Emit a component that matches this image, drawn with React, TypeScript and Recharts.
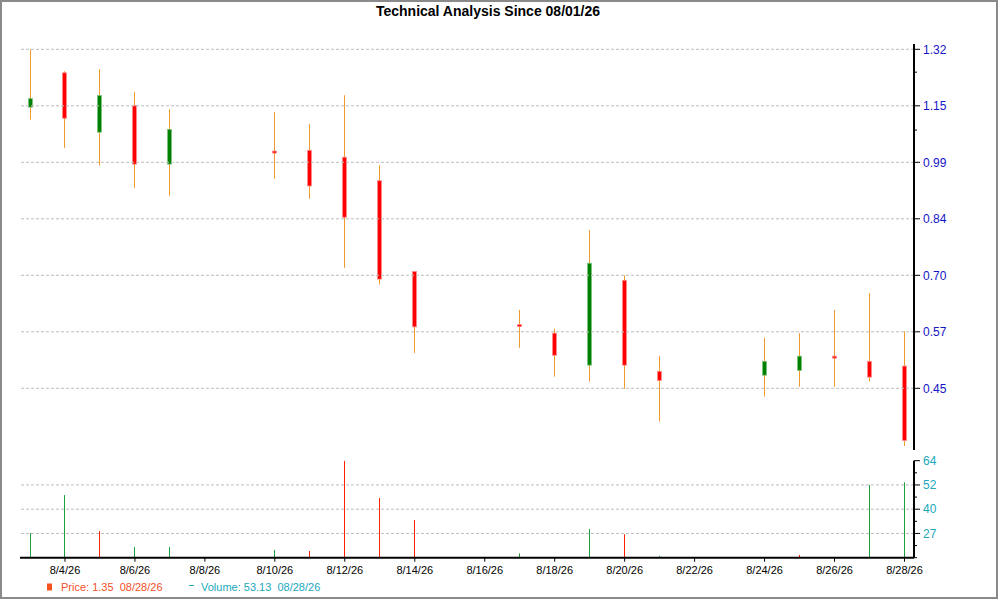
import React from 'react';
import { ComposedChart, Bar, XAxis, YAxis, ReferenceLine } from 'recharts';

// Trading days of August 2026 (calendar day numbers)
const DAYS = [3, 4, 5, 6, 7, 10, 11, 12, 13, 14, 17, 18, 19, 20, 21, 24, 25, 26, 27, 28];

const OPEN = [1.146, 1.248, 1.074, 1.15, 0.985, 1.021, 1.023, 1.004, 0.94, 0.709, 0.586, 0.567, 0.498, 0.688, 0.485, 0.477, 0.487, 0.517, 0.506, 0.496];
const HIGH = [1.32, 1.253, 1.259, 1.191, 1.14, 1.132, 1.097, 1.181, 0.982, 0.709, 0.619, 0.577, 0.811, 0.7, 0.517, 0.557, 0.567, 0.619, 0.658, 0.571];
const LOW = [1.11, 1.03, 0.981, 0.921, 0.9, 0.945, 0.892, 0.718, 0.678, 0.524, 0.535, 0.474, 0.464, 0.449, 0.384, 0.433, 0.453, 0.453, 0.464, 0.338];
const CLOSE = [1.171, 1.114, 1.18, 0.985, 1.082, 1.017, 0.926, 0.844, 0.691, 0.581, 0.582, 0.519, 0.729, 0.498, 0.466, 0.506, 0.517, 0.513, 0.473, 0.348];

const VOLUME = [27.6, 46.7, 28.6, 20.6, 20.6, 19.1, 18.6, 64, 45.2, 34.2, 17.4, 15.2, 29.6, 27.0, 16.1, 15.2, 16.6, 15.2, 51.8, 53.13];
const VOLUME_UP = [true, true, false, true, true, true, false, false, false, false, true, true, true, false, true, true, false, true, true, true];

// axis ticks
const PRICE_MAJOR = [1.32, 1.15, 0.99, 0.84, 0.7, 0.57, 0.45];
const PRICE_MINOR = [1.25, 1.08];
const VOL_MIN = 15.2;
const VOL_MAX = 64;
const VOL_MAJOR = [27.4, 39.6, 51.8, 64];
const VOL_MINOR = [15.2, 21.3, 33.5, 45.7, 57.9];
const DATE_TICKS = [4, 6, 8, 10, 12, 14, 16, 18, 20, 22, 24, 26, 28];

const TITLE = 'Technical Analysis Since 08/01/26';
const LEGEND_PRICE = 'Price: 1.35  08/28/26';
const LEGEND_VOLUME = 'Volume: 53.13  08/28/26';

// the price axis is a square-root scale with an offset
const OFFSET = 0.21125;
const T = (v: number) => Math.sqrt(v + OFFSET);
const fromT = (t: number) => t * t - OFFSET;

const X_DOMAIN: [number, number] = [2.714, 28.272];
const FONT = '"Liberation Sans", Arial, sans-serif';
const WICK = '#f29a2e';
const GRID = '#bdbdbd';

const priceRows = DAYS.map((day, i) => ({
    day,
    open: OPEN[i],
    high: HIGH[i],
    low: LOW[i],
    close: CLOSE[i],
}));

const volumeRows = DAYS.map((day, i) => ({
    day,
    volume: VOLUME[i],
    up: VOLUME_UP[i],
}));

const isIn = (list: number[], v: number) => list.some(t => Math.abs(t - v) < 1e-6);

const Candle = (props: any) => {
    const { x, y, width, height, payload } = props;
    if (x == null || !payload) return null;
    const cx = Math.round(x + width / 2) + 0.5;
    const top = Math.min(y, y + height);
    const h = Math.abs(height);
    const th = T(payload.high);
    const tl = T(payload.low);
    const k = h / (th - tl);
    const yOf = (v: number) => top + (th - T(v)) * k;
    const yO = yOf(payload.open);
    const yC = yOf(payload.close);
    const up = payload.close > payload.open;
    const bodyTop = Math.min(yO, yC);
    const bodyH = Math.max(Math.abs(yO - yC), 2);
    return (
        <g>
            <line x1={cx} x2={cx} y1={top} y2={top + h} stroke={WICK} strokeWidth={1} />
            <rect
                x={cx - 2}
                y={bodyTop}
                width={4}
                height={bodyH}
                fill={up ? '#008000' : '#ff0000'}
                stroke={up ? '#7cc07c' : '#ff8a8a'}
                strokeWidth={0.8}
            />
        </g>
    );
};

const VolumeLine = (props: any) => {
    const { x, y, width, height, payload } = props;
    if (x == null || !payload) return null;
    const cx = Math.round(x + width / 2) + 0.5;
    const top = Math.min(y, y + height);
    return (
        <line
            x1={cx}
            x2={cx}
            y1={top}
            y2={top + Math.abs(height)}
            stroke={payload.up ? '#1e9e3c' : '#ff2200'}
            strokeWidth={1}
        />
    );
};

const PriceTick = (props: any) => {
    const { x, y, payload } = props;
    const major = isIn(PRICE_MAJOR.map(T), payload.value);
    const ax = x - 9;
    return (
        <g>
            <line x1={ax} x2={ax + (major ? 6 : 3)} y1={y} y2={y} stroke="#000" strokeWidth={1} />
            {major && (
                <text x={x} y={y} dy="0.35em" fontSize={12} fontFamily={FONT} fill="#1414c8">
                    {fromT(payload.value).toFixed(2)}
                </text>
            )}
        </g>
    );
};

const VolumeTick = (props: any) => {
    const { x, y, payload } = props;
    const major = isIn(VOL_MAJOR, payload.value);
    const ax = x - 9;
    return (
        <g>
            <line x1={ax} x2={ax + (major ? 6 : 3)} y1={y} y2={y} stroke="#000" strokeWidth={1} />
            {major && (
                <text x={x} y={y} dy="0.35em" fontSize={12} fontFamily={FONT} fill="#20a8bc">
                    {Math.round(payload.value)}
                </text>
            )}
        </g>
    );
};

const App = () => {
    return (
        <div
            style={{
                position: 'absolute',
                left: 0,
                top: 0,
                width: 1000,
                height: 600,
                background: '#fff',
                fontFamily: FONT,
            }}
        >
            {/* price panel */}
            <div style={{ position: 'absolute', left: 0, top: 0 }}>
                <ComposedChart
                    width={1000}
                    height={455}
                    data={priceRows}
                    margin={{ top: 44, right: 26, bottom: 5, left: 20 }}
                >
                    <XAxis dataKey="day" type="number" domain={X_DOMAIN} allowDataOverflow hide />
                    <YAxis
                        orientation="right"
                        type="number"
                        width={60}
                        domain={[0.73596, 1.24407]}
                        allowDataOverflow
                        ticks={[...PRICE_MAJOR, ...PRICE_MINOR].map(T)}
                        interval={0}
                        tickSize={0}
                        tickMargin={9}
                        tickLine={false}
                        tick={<PriceTick />}
                        axisLine={{ stroke: '#000', strokeWidth: 2 }}
                    />
                    {PRICE_MAJOR.map(v => (
                        <ReferenceLine
                            key={v}
                            y={T(v)}
                            stroke={GRID}
                            strokeDasharray="3 2"
                            strokeWidth={1}
                        />
                    ))}
                    <Bar
                        dataKey={(d: any) => [T(d.low), T(d.high)]}
                        barSize={6}
                        shape={<Candle />}
                        isAnimationActive={false}
                    />
                </ComposedChart>
            </div>

            {/* volume panel */}
            <div style={{ position: 'absolute', left: 0, top: 455 }}>
                <ComposedChart
                    width={1000}
                    height={145}
                    data={volumeRows}
                    margin={{ top: 5.7, right: 26, bottom: 12.3, left: 20 }}
                >
                    <XAxis
                        dataKey="day"
                        type="number"
                        domain={X_DOMAIN}
                        allowDataOverflow
                        ticks={DATE_TICKS}
                        interval={0}
                        height={30}
                        tickSize={4}
                        tickMargin={4}
                        tickFormatter={(d: number) => `8/${d}/26`}
                        tick={{ fontSize: 11, fontFamily: FONT, fill: '#000' }}
                        tickLine={{ stroke: '#000' }}
                        axisLine={{ stroke: '#000', strokeWidth: 2 }}
                    />
                    <YAxis
                        orientation="right"
                        type="number"
                        width={60}
                        domain={[VOL_MIN, VOL_MAX]}
                        allowDataOverflow
                        ticks={[...VOL_MAJOR, ...VOL_MINOR]}
                        interval={0}
                        tickSize={0}
                        tickMargin={9}
                        tickLine={false}
                        tick={<VolumeTick />}
                        axisLine={{ stroke: '#000', strokeWidth: 2 }}
                    />
                    {VOL_MAJOR.filter(v => v < VOL_MAX).map(v => (
                        <ReferenceLine
                            key={v}
                            y={v}
                            stroke={GRID}
                            strokeDasharray="3 2"
                            strokeWidth={1}
                        />
                    ))}
                    <Bar
                        dataKey={(d: any) => [VOL_MIN, d.volume]}
                        barSize={6}
                        shape={<VolumeLine />}
                        isAnimationActive={false}
                    />
                </ComposedChart>
            </div>

            {/* title and legend */}
            <svg
                width={1000}
                height={600}
                style={{ position: 'absolute', left: 0, top: 0, pointerEvents: 'none' }}
            >
                <text x={488} y={16} textAnchor="middle" fontSize={14} fontWeight="bold" fontFamily={FONT} fill="#000">
                    {TITLE}
                </text>
                <rect x={47} y={583.5} width={5} height={7} fill="#f5501e" />
                <text x={61} y={591} fontSize={11} fontFamily={FONT} fill="#f5502a" style={{ whiteSpace: 'pre' }}>
                    {LEGEND_PRICE}
                </text>
                <line x1={189} x2={194} y1={585.5} y2={585.5} stroke="#20a8bc" strokeWidth={1} />
                <text x={201} y={591} fontSize={11} fontFamily={FONT} fill="#20a8bc" style={{ whiteSpace: 'pre' }}>
                    {LEGEND_VOLUME}
                </text>
                <rect x={1} y={1} width={996} height={597} fill="none" stroke="#8a8a8a" strokeWidth={2} />
            </svg>
        </div>
    );
};

export default App;
